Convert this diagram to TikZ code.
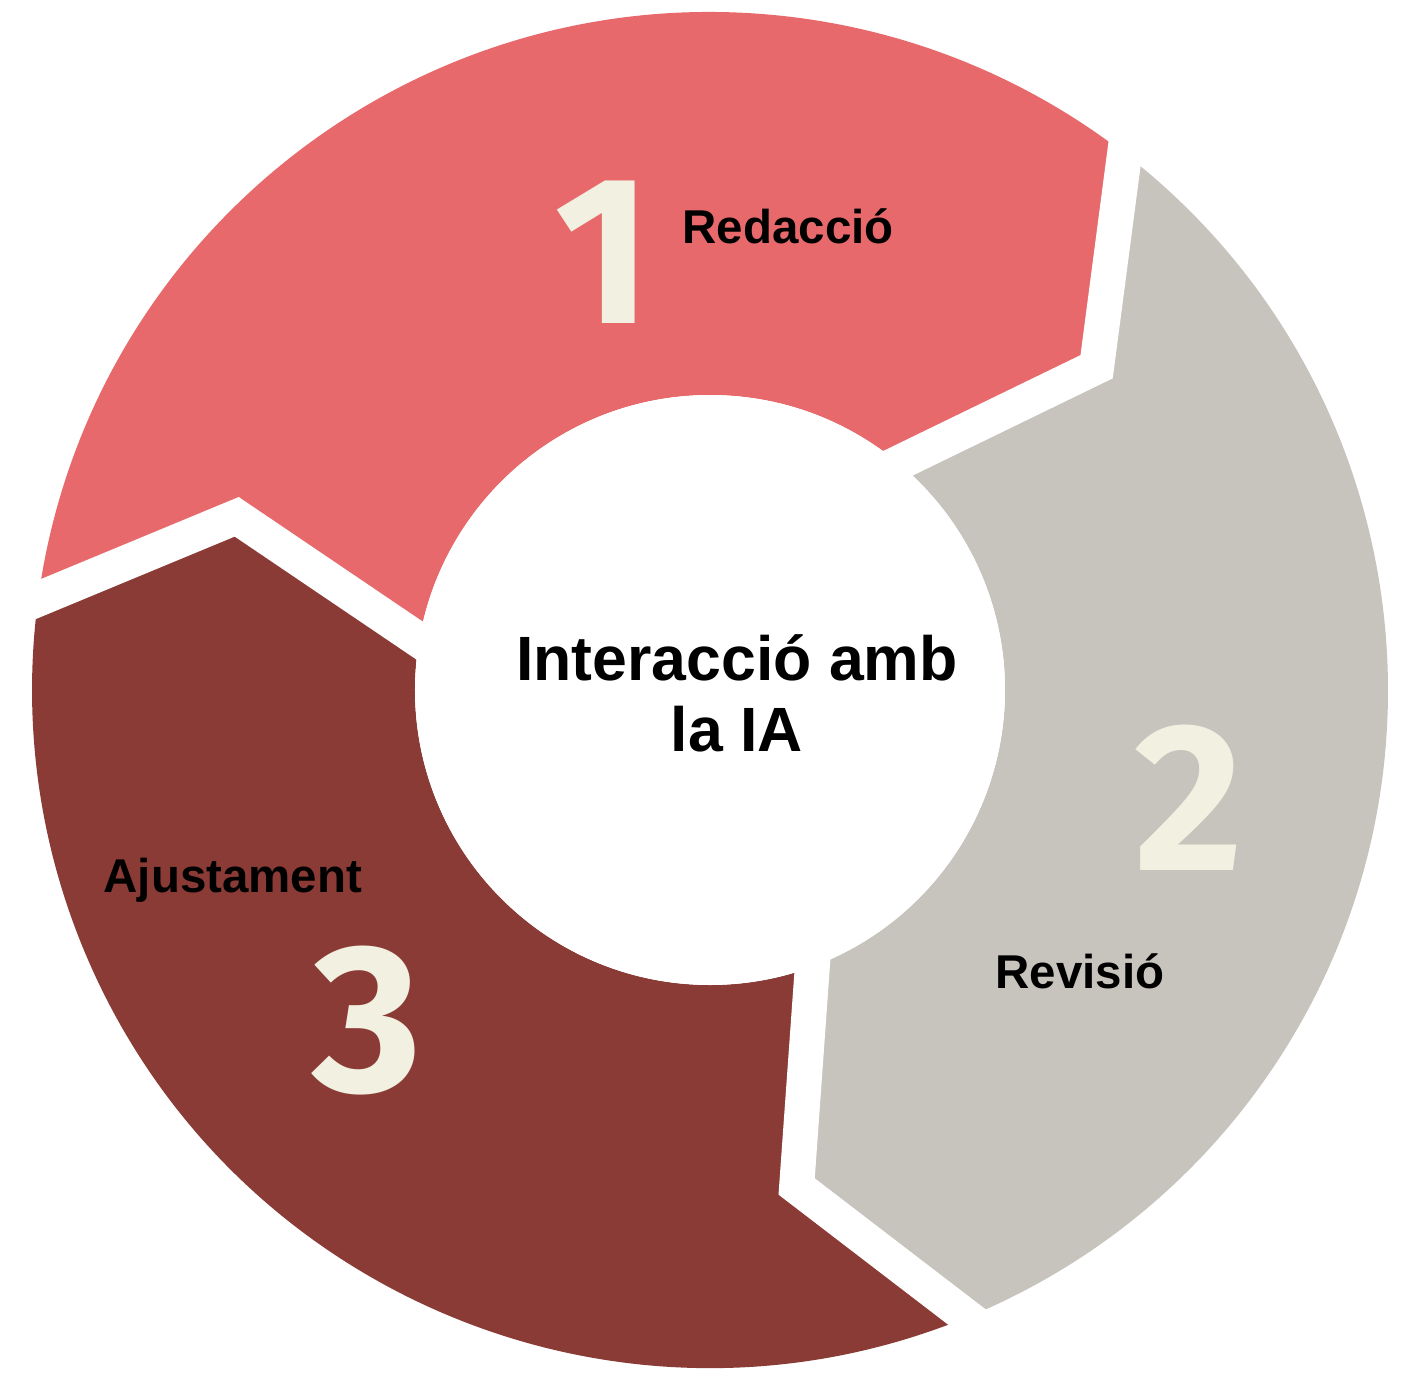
\documentclass[tikz,border=0pt]{standalone}
\usepackage{fontspec}
\setmainfont{Liberation Sans}
\newfontfamily\xifres{Fira Sans}
\usetikzlibrary{calc}
\definecolor{redaccio}{HTML}{E8696B}
\definecolor{revisio}{HTML}{C7C3BD}
\definecolor{ajust}{HTML}{8A3B35}
\definecolor{crema}{HTML}{F2F0E1}

\begin{document}
\begin{tikzpicture}[
  numero/.style={text=crema, inner sep=0, font=\xifres\bfseries\fontsize{60}{60}\selectfont},
  etiqueta/.style={inner sep=0, font=\bfseries\fontsize{13.5}{17}\selectfont},
  tall/.style={white, line width=0.35cm, line join=miter}]

\useasboundingbox (-7.10,-6.83) rectangle (7.01,6.90);

\def\R{6.78}
\def\r{2.95}

% punts de cada tall: exterior, punta, interior
\foreach \g/\a in {A/52.3, B/-67.7, C/172.3}{
  \coordinate (o\g) at (\a:\R);
  \coordinate (t\g) at ({\a-12.4}:5.04);
  \coordinate (i\g) at ({\a-2}:\r);
}

\fill[redaccio] (oC) arc[start angle=172.3, end angle=52.3, radius=\R] -- (tA) -- (iA)
  arc[start angle=50.3, end angle=170.3, radius=\r] -- (tC) -- cycle;
\fill[revisio] (oA) arc[start angle=52.3, end angle=-67.7, radius=\R] -- (tB) -- (iB)
  arc[start angle=-69.7, end angle=50.3, radius=\r] -- (tA) -- cycle;
\fill[ajust] (oB) arc[start angle=-67.7, end angle=-187.7, radius=\R] -- (tC) -- (iC)
  arc[start angle=-189.7, end angle=-69.7, radius=\r] -- (tB) -- cycle;

\foreach \g in {A,B,C}
  \draw[tall] ($(t\g)!1.3!(o\g)$) -- (t\g) -- ($(t\g)!1.3!(i\g)$);

\fill[white] (0,0) circle (\r);

\node[inner sep=0, anchor=south, align=center, font=\bfseries\fontsize{17.8}{20.2}\selectfont] (centre) at (0.27,-0.63) {Interacció amb\\la IA};

\node[numero] (n1) at (-1.065,4.375) {1};
\node[etiqueta, anchor=base west] (redaccio) at (-0.28,4.47) {Redacció};
\node[numero] (n2) at (4.79,-1.075) {2};
\node[etiqueta, anchor=base west] (revisio) at (2.85,-2.98) {Revisió};
\node[numero] (n3) at (-3.425,-3.31) {3};
\node[etiqueta, anchor=base west] (ajustament) at (-6.07,-2.02) {Ajustament};

\end{tikzpicture}
\end{document}
